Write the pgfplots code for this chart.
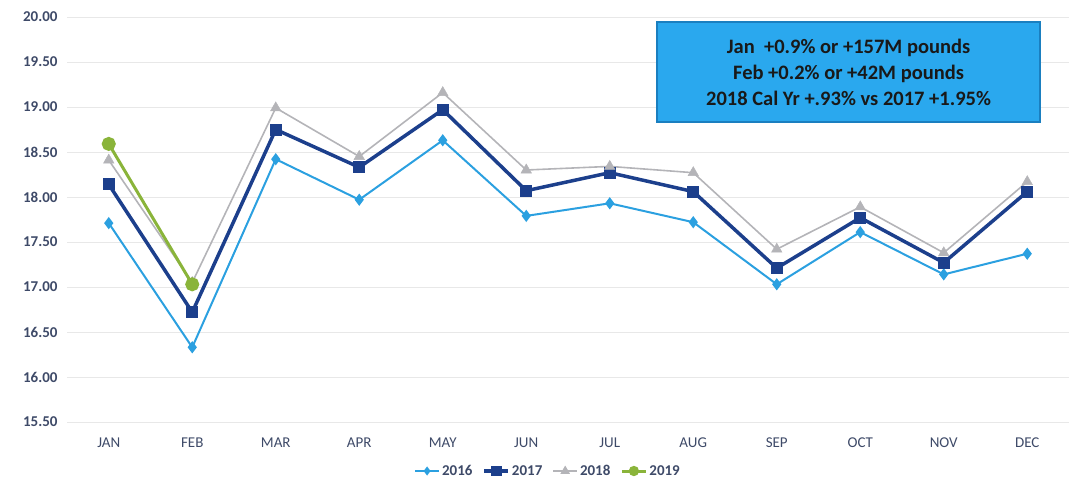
\documentclass[border=0pt]{standalone}
\usepackage{fontspec}
\setmainfont{Carlito}
\usepackage{pgfplots}
\pgfplotsset{compat=1.18}

\definecolor{c2016}{HTML}{2BA0E0}
\definecolor{c2017}{HTML}{1C3F8C}
\definecolor{c2018}{HTML}{B4B4B8}
\definecolor{c2019}{HTML}{8AB43A}
\definecolor{boxfill}{HTML}{2AA8EE}
\definecolor{boxline}{HTML}{1A7FC0}
\definecolor{ticktxt}{HTML}{3E4A68}

\begin{document}
\begin{tikzpicture}
\useasboundingbox (-67pt,-63pt) rectangle (1008pt,422pt);
\begin{axis}[
    scale only axis,
    width=1002pt, height=405pt,
    xmin=-0.5, xmax=11.5,
    ymin=15.5, ymax=20,
    xtick={0,...,11},
    xticklabels={JAN,FEB,MAR,APR,MAY,JUN,JUL,AUG,SEP,OCT,NOV,DEC},
    ytick={15.5,16,...,20},
    yticklabel style={/pgf/number format/fixed, /pgf/number format/fixed zerofill,
        /pgf/number format/precision=2, font=\fontsize{15}{15}\selectfont\bfseries, text=ticktxt},
    xticklabel style={font=\fontsize{15}{15}\selectfont, text=ticktxt},
    /pgf/number format/assume math mode=true,
    axis line style={draw=none},
    major tick length=0pt,
    ymajorgrids,
    grid style={draw=gray!18, line width=1pt},
    yticklabel shift=6pt,
    xticklabel shift=12pt,
    legend style={at={(0.48,-0.121)}, anchor=center, draw=none, fill=none,
        legend columns=-1, font=\fontsize{15}{15}\selectfont\bfseries, text=ticktxt,
        /tikz/every even column/.append style={column sep=8pt}},
    legend image code/.code={
        \draw[#1] (0pt,0pt) -- (24pt,0pt);
        \draw[#1, only marks, mark options={scale=0.65}] plot coordinates {(12pt,0pt)};
    },
  ]
  \addplot[c2016, line width=2pt, mark=diamond*, mark size=4.5pt, mark options={solid}] coordinates {
    (0,17.71) (1,16.33) (2,18.42) (3,17.97) (4,18.63) (5,17.79)
    (6,17.93) (7,17.72) (8,17.03) (9,17.61) (10,17.14) (11,17.37)
  };
  \addlegendentry{2016}
  \addplot[c2017, line width=3.5pt, mark=square*, mark size=5.5pt, mark options={solid, line width=1pt}] coordinates {
    (0,18.14) (1,16.72) (2,18.75) (3,18.33) (4,18.97) (5,18.07)
    (6,18.27) (7,18.06) (8,17.21) (9,17.77) (10,17.27) (11,18.06)
  };
  \addlegendentry{2017}
  \addplot[c2018, line width=1.6pt, mark=triangle*, mark size=6pt, mark options={solid, line width=0.5pt}] coordinates {
    (0,18.41) (1,17.05) (2,18.99) (3,18.45) (4,19.16) (5,18.30)
    (6,18.34) (7,18.27) (8,17.42) (9,17.89) (10,17.38) (11,18.17)
  };
  \addlegendentry{2018}
  \addplot[c2019, line width=3pt, mark=*, mark size=5.5pt, mark options={solid}] coordinates {
    (0,18.59) (1,17.03)
  };
  \addlegendentry{2019}

  \node[draw=boxline, line width=1.2pt, fill=boxfill, minimum width=383pt, minimum height=100pt,
        align=center, font=\fontsize{20.5}{26}\selectfont\bfseries, text=black!90, inner sep=0pt]
    at (rel axis cs:0.78,0.864)
    {Jan\ \ +0.9\% or +157M pounds\\Feb +0.2\% or +42M pounds\\2018 Cal Yr +.93\% vs 2017 +1.95\%};
\end{axis}
\end{tikzpicture}
\end{document}
